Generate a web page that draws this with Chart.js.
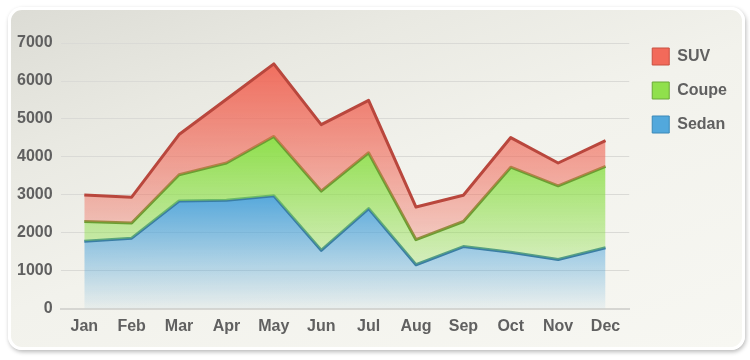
<!DOCTYPE html>
<html><head><meta charset="utf-8">
<script src="https://cdn.jsdelivr.net/npm/chart.js@4/dist/chart.umd.min.js"></script>
<style>
html,body{margin:0;padding:0;background:#fff;width:750px;height:360px;overflow:hidden}
#card{position:absolute;left:8px;top:7px;width:731px;height:337px;border:3px solid #fff;border-radius:14px;
box-shadow:1px 2px 4px rgba(0,0,0,0.28);
background:linear-gradient(160deg,#dcdcd5 0%,#e9e9e2 25%,#f2f2ec 50%,#f7f7f2 100%);}
#wrap{position:absolute;left:0;top:0;width:750px;height:360px}
</style></head><body>
<div id="card"></div>
<div id="wrap"><canvas id="c" width="750" height="360"></canvas></div>
<script>
const months = ['Jan','Feb','Mar','Apr','May','Jun','Jul','Aug','Sep','Oct','Nov','Dec'];
const suv   = [3000, 2940, 4590, 5520, 6450, 4850, 5490, 2680, 2990, 4510, 3840, 4430];
const coupe = [2300, 2260, 3530, 3840, 4540, 3100, 4110, 1820, 2300, 3730, 3240, 3750];
const sedan = [1780, 1860, 2840, 2860, 2980, 1540, 2640, 1160, 1640, 1490, 1300, 1610];
const seriesNames = ['SUV', 'Coupe', 'Sedan'];
const yTickValues = [0, 1000, 2000, 3000, 4000, 5000, 6000, 7000];
const yTickLabels = ['0', '1000', '2000', '3000', '4000', '5000', '6000', '7000'];

const fillRGB = [[240,104,88],[138,222,68],[78,164,218]];
const lineColors = ['#b9473d', '#6a9e32', '#3a7ea4'];
const legendFill = ['#f26a5a', '#90e04c', '#52a8dc'];
const legendStroke = ['#c85040', '#6aa838', '#3a88b8'];
const textColor = '#606060';
const FONT = '"Liberation Sans", Arial, sans-serif';

function gradFor(idx, data) {
  const [r,g,b] = fillRGB[idx];
  return (ctx) => {
    const chart = ctx.chart;
    if (!chart.chartArea) return `rgba(${r},${g},${b},0.6)`;
    const y = chart.scales.y;
    const top = y.getPixelForValue(Math.max(...data));
    const bottom = y.getPixelForValue(0);
    const gr = chart.ctx.createLinearGradient(0, top, 0, bottom);
    gr.addColorStop(0, `rgba(${r},${g},${b},0.95)`);
    gr.addColorStop(0.5, `rgba(${r},${g},${b},0.5)`);
    gr.addColorStop(1, `rgba(${r},${g},${b},0.06)`);
    return gr;
  };
}

const seriesData = [suv, coupe, sedan];
const fills = ['+1', '+1', 'origin'];

new Chart(document.getElementById('c'), {
  type: 'line',
  data: {
    labels: months,
    datasets: seriesData.map((d, i) => ({
      label: seriesNames[i],
      data: d,
      borderColor: lineColors[i],
      borderWidth: 3,
      borderJoinStyle: 'round',
      backgroundColor: gradFor(i, d),
      fill: fills[i],
      tension: 0,
      pointRadius: 0,
      pointHoverRadius: 0
    }))
  },
  options: {
    responsive: false,
    animation: false,
    devicePixelRatio: 1,
    layout: { padding: { top: 31, left: 9, right: 13, bottom: 16 } },
    plugins: {
      tooltip: { enabled: false },
      legend: {
        position: 'right',
        align: 'start',
        labels: {
          boxWidth: 17, boxHeight: 17, padding: 17,
          color: textColor,
          font: { family: FONT, size: 16, weight: 'bold' },
          generateLabels: (chart) => chart.data.datasets.map((ds, i) => ({
            text: ds.label, fillStyle: legendFill[i], strokeStyle: legendStroke[i],
            lineWidth: 1, hidden: false, datasetIndex: i, fontColor: textColor
          }))
        }
      }
    },
    scales: {
      x: {
        offset: true,
        grid: { display: false, drawTicks: false },
        border: { display: true, color: '#d6d6d2', width: 2 },
        ticks: { color: textColor, padding: 8, font: { family: FONT, size: 16, weight: 'bold' } }
      },
      y: {
        min: 0,
        max: 7317,
        afterBuildTicks: (s) => { s.ticks = yTickValues.map(v => ({ value: v })); },
        grid: { color: '#dadad6', lineWidth: 1, drawTicks: false },
        border: { display: false },
        ticks: { color: textColor, padding: 8, font: { family: FONT, size: 16, weight: 'bold' },
                 callback: (v, i) => yTickLabels[i] }
      },
      spacer: {
        position: 'right', display: true,
        grid: { display: false }, border: { display: false },
        ticks: { display: false },
        afterFit: (s) => { s.width = 6; }
      }
    }
  }
});
</script>
</body></html>
